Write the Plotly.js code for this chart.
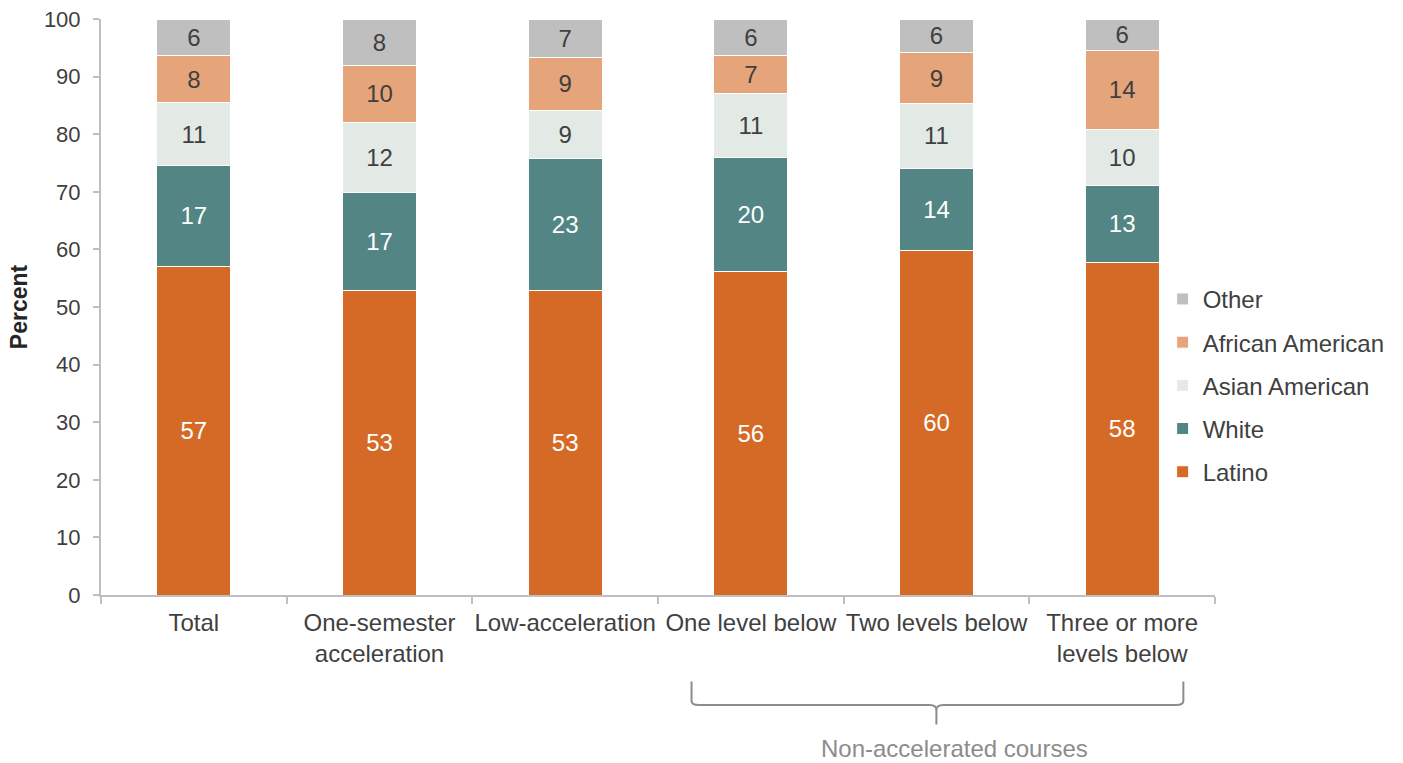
<!DOCTYPE html>
<html>
<head>
<meta charset="utf-8">
<script src="https://cdn.plot.ly/plotly-3.0.1.min.js"></script>
<style>html,body{margin:0;padding:0;background:#fff;}#chart{width:1403px;height:763px;}</style>
</head>
<body>
<div id="chart"></div>
<script>
const categories = ["Total", "One-semester<br>acceleration", "Low-acceleration", "One level below", "Two levels below", "Three or more<br>levels below"];
const latino = [57.1, 52.8, 52.8, 56.2, 59.8, 57.8];
const white = [17.4, 17.1, 22.9, 19.8, 14.3, 13.3];
const asian = [11.0, 12.2, 8.5, 11.0, 11.2, 9.8];
const african = [8.1, 9.8, 9.2, 6.6, 8.8, 13.6];
const other = [6.4, 8.1, 6.6, 6.4, 5.9, 5.5];
const seriesNames = ["Latino", "White", "Asian American", "African American", "Other"];
const seriesColors = ["#D56A26", "#528584", "#E3EAE6", "#E6A47A", "#BFBFBF"];
const labelColors = ["#FFFFFF", "#FFFFFF", "#404040", "#404040", "#404040"];
const groupLabel = "Non-accelerated courses";

const seriesValues = [latino, white, asian, african, other];
const FONT = "Liberation Sans, Arial, sans-serif";

const traces = seriesValues.map((vals, i) => ({
  type: "bar",
  name: seriesNames[i],
  x: categories,
  y: vals,
  legendgroup: "g" + i,
  legendrank: 100 - i,
  marker: {color: seriesColors[i], line: {color: "#FFFFFF", width: 1}},
  texttemplate: "%{y:.0f}",
  textposition: "inside",
  insidetextanchor: "middle",
  textangle: 0,
  constraintext: "none",
  textfont: {family: FONT, size: 24, color: labelColors[i]},
  hoverinfo: "skip"
}));

const layout = {
  width: 1403, height: 763,
  margin: {l: 101, r: 188, t: 19, b: 168},
  paper_bgcolor: "#FFFFFF", plot_bgcolor: "#FFFFFF",
  barmode: "stack",
  bargap: 0.6,
  font: {family: FONT, size: 22, color: "#404040"},
  showlegend: true,
  legend: {
    x: 0.953, xanchor: "left", y: 0.364, yanchor: "middle",
    traceorder: "grouped", tracegroupgap: 9,
    font: {family: FONT, size: 24, color: "#404040"},
    bgcolor: "rgba(0,0,0,0)", borderwidth: 0
  },
  xaxis: {
    type: "category",
    showline: true, linecolor: "#BFBFBF", linewidth: 2,
    ticks: "outside", tickson: "boundaries", ticklen: 7, tickcolor: "#BFBFBF", tickwidth: 2,
    tickangle: 0,
    ticklabelstandoff: 5,
    showgrid: false, zeroline: false,
    tickfont: {family: FONT, size: 24, color: "#404040"},
    automargin: false
  },
  yaxis: {
    range: [0, 100], dtick: 10, tick0: 0,
    showline: true, linecolor: "#BFBFBF", linewidth: 2,
    ticks: "outside", ticklen: 6, tickcolor: "#BFBFBF", tickwidth: 2,
    ticklabelstandoff: 8,
    showgrid: false, zeroline: false,
    tickfont: {family: FONT, size: 22, color: "#404040"},
    title: {text: "Percent", font: {family: FONT, size: 23, color: "#262626", weight: "bold"}, standoff: 10},
    automargin: false
  },
  shapes: [{
    type: "path", xref: "paper", yref: "paper",
    path: "M 0.5301 -0.150 L 0.5301 -0.184 Q 0.5301 -0.191 0.5365 -0.191 L 0.7440 -0.191 Q 0.7499 -0.191 0.7499 -0.200 L 0.7499 -0.225 L 0.7499 -0.200 Q 0.7499 -0.191 0.7560 -0.191 L 0.9650 -0.191 Q 0.9716 -0.191 0.9716 -0.184 L 0.9716 -0.150",
    line: {color: "#8C8C8C", width: 2}
  }],
  annotations: [{
    xref: "paper", yref: "paper", x: 0.766, y: -0.266, xanchor: "center", yanchor: "middle",
    text: groupLabel, showarrow: false,
    font: {family: FONT, size: 24, color: "#8C8C8C"}
  }]
};

Plotly.newPlot("chart", traces, layout, {displayModeBar: false, staticPlot: true});
</script>
</body>
</html>
